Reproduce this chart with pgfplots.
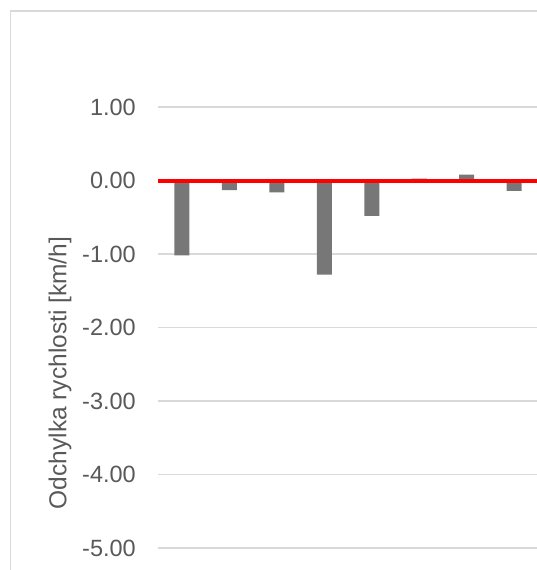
\documentclass[border=0pt]{standalone}
\usepackage{pgfplots}
\pgfplotsset{compat=1.18}
\usepackage{fontspec}
\setmainfont{Liberation Sans}
\definecolor{txtgray}{HTML}{595959}
\definecolor{gridgray}{HTML}{D9D9D9}
\definecolor{bargray}{HTML}{777777}
\definecolor{zeroline}{HTML}{FF0000}

\begin{document}
\begin{tikzpicture}[x=1pt,y=1pt]
\useasboundingbox (0,0) rectangle (537,570);
% chart frame (cropped at right and bottom)
\draw[gridgray, line width=1.5pt] (10.5,-5) -- (10.5,559) -- (545,559);
\begin{axis}[
	at={(158pt,22pt)}, anchor=south west,
	scale only axis, width=380pt, height=441pt,
	ymin=-5, ymax=1, xmin=-0.5, xmax=7.5,
	axis line style={draw=none},
	xtick=\empty,
	ytick={-5,-4,...,1},
	ymajorgrids,
	grid style={gridgray, line width=1.5pt},
	major tick length=0pt,
	/pgf/number format/.cd, fixed, fixed zerofill, precision=2, assume math mode=true,
	/pgfplots/.cd,
	yticklabel style={font=\fontsize{23.5}{28}\selectfont, text=txtgray, inner sep=0pt, anchor=east, xshift=-22pt},
	ylabel={Odchylka rychlosti [km/h]},
	ylabel style={font=\fontsize{24.5}{29}\selectfont, text=txtgray, at={(axis description cs:-0.258,0.397)}, anchor=center},
	clip=false,
]
\addplot[ybar, bar width=15pt, fill=bargray, draw=none] coordinates {
	(0,-1.02)
	(1,-0.13)
	(2,-0.16)
	(3,-1.28)
	(4,-0.48)
	(5,0.025)
	(6,0.08)
	(7,-0.14)
};
\addplot[zeroline, line width=4pt] coordinates {(-0.5,0) (7.5,0)};
\end{axis}
\end{tikzpicture}
\end{document}
